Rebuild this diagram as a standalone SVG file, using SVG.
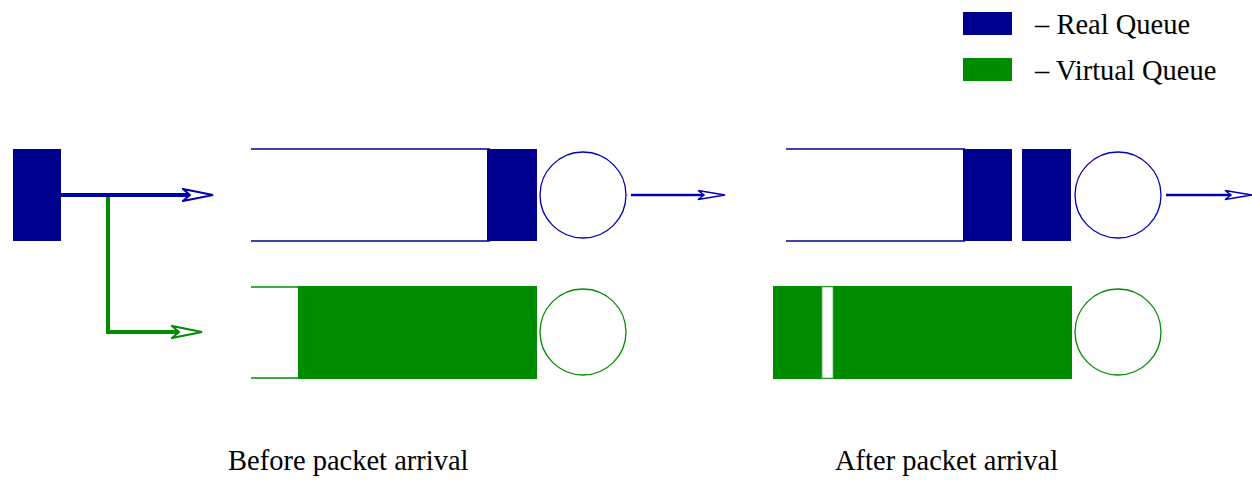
<svg xmlns="http://www.w3.org/2000/svg" width="1252" height="480" viewBox="0 0 1252 480">
<style>
.blue{fill:#00008f}
.green{fill:#008c00}
.qb{stroke:#00008f;stroke-width:1.5;fill:none}
.qg{stroke:#008c00;stroke-width:1.5;fill:none}
.srv-b{fill:#fff;stroke:#0000b0;stroke-width:1.3}
.srv-g{fill:#fff;stroke:#008c00;stroke-width:1.3}
.lbl{font-family:"Liberation Serif","Times New Roman",serif;font-size:28.5px;fill:#000}
</style>
<defs>
<marker id="ahB" markerUnits="userSpaceOnUse" viewBox="0 0 32 14" markerWidth="32" markerHeight="14" refX="8" refY="7" orient="auto">
<path d="M1,1 L31,7 L1,13 L8,7 Z" fill="#fff" stroke="#0000b0" stroke-width="2"/>
</marker>
<marker id="ahG" markerUnits="userSpaceOnUse" viewBox="0 0 32 14" markerWidth="32" markerHeight="14" refX="8" refY="7" orient="auto">
<path d="M1,1 L31,7 L1,13 L8,7 Z" fill="#fff" stroke="#008c00" stroke-width="2"/>
</marker>
<marker id="ahT" markerUnits="userSpaceOnUse" viewBox="0 0 30 11" markerWidth="30" markerHeight="11" refX="7" refY="5.5" orient="auto">
<path d="M1,1 L28,5.5 L1,10 L7,5.5 Z" fill="#fff" stroke="#0000b0" stroke-width="1.5"/>
</marker>
</defs>

<g id="legend">
<rect class="blue" x="963" y="12" width="49" height="23"/>
<text class="lbl" x="1035" y="34">– Real Queue</text>
<rect class="green" x="963" y="58" width="49" height="23"/>
<text class="lbl" x="1035" y="80">– Virtual Queue</text>
</g>

<g id="source">
<rect class="blue" x="13" y="149" width="48" height="92"/>
</g>

<g id="before-real-queue">
<line class="qb" x1="251" y1="149" x2="490" y2="149"/>
<line class="qb" x1="251" y1="241" x2="490" y2="241"/>
<rect class="blue" x="487" y="149" width="50" height="92"/>
<circle class="srv-b" cx="583" cy="195" r="43"/>
</g>

<g id="before-virtual-queue">
<line class="qg" x1="251" y1="287" x2="300" y2="287"/>
<line class="qg" x1="251" y1="378" x2="300" y2="378"/>
<rect class="green" x="298" y="286" width="239" height="93"/>
<circle class="srv-g" cx="583" cy="332" r="43"/>
</g>

<g id="after-real-queue">
<line class="qb" x1="786" y1="149" x2="965" y2="149"/>
<line class="qb" x1="786" y1="241" x2="965" y2="241"/>
<rect class="blue" x="963" y="149" width="49" height="92"/>
<rect class="blue" x="1022" y="149" width="49" height="92"/>
<circle class="srv-b" cx="1118" cy="195" r="43"/>
</g>

<g id="after-virtual-queue">
<rect class="green" x="773" y="286" width="299" height="93"/>
<rect x="822" y="287" width="11" height="91" fill="#fff" stroke="#5cb85c" stroke-width="0.8"/>
<circle class="srv-g" cx="1118" cy="332" r="43"/>
</g>

<g id="connectors">
<polyline points="108,195 108,332 179,332" fill="none" stroke="#008c00" stroke-width="4" marker-end="url(#ahG)"/>
<line x1="61" y1="195" x2="190" y2="195" stroke="#0000b0" stroke-width="4" marker-end="url(#ahB)"/>
<line x1="631" y1="195" x2="704" y2="195" stroke="#0000b0" stroke-width="2.5" marker-end="url(#ahT)"/>
<line x1="1166" y1="195" x2="1231" y2="195" stroke="#0000b0" stroke-width="2.5" marker-end="url(#ahT)"/>
</g>

<g id="captions">
<text class="lbl" x="228" y="470">Before packet arrival</text>
<text class="lbl" x="835" y="470">After packet arrival</text>
</g>
</svg>
